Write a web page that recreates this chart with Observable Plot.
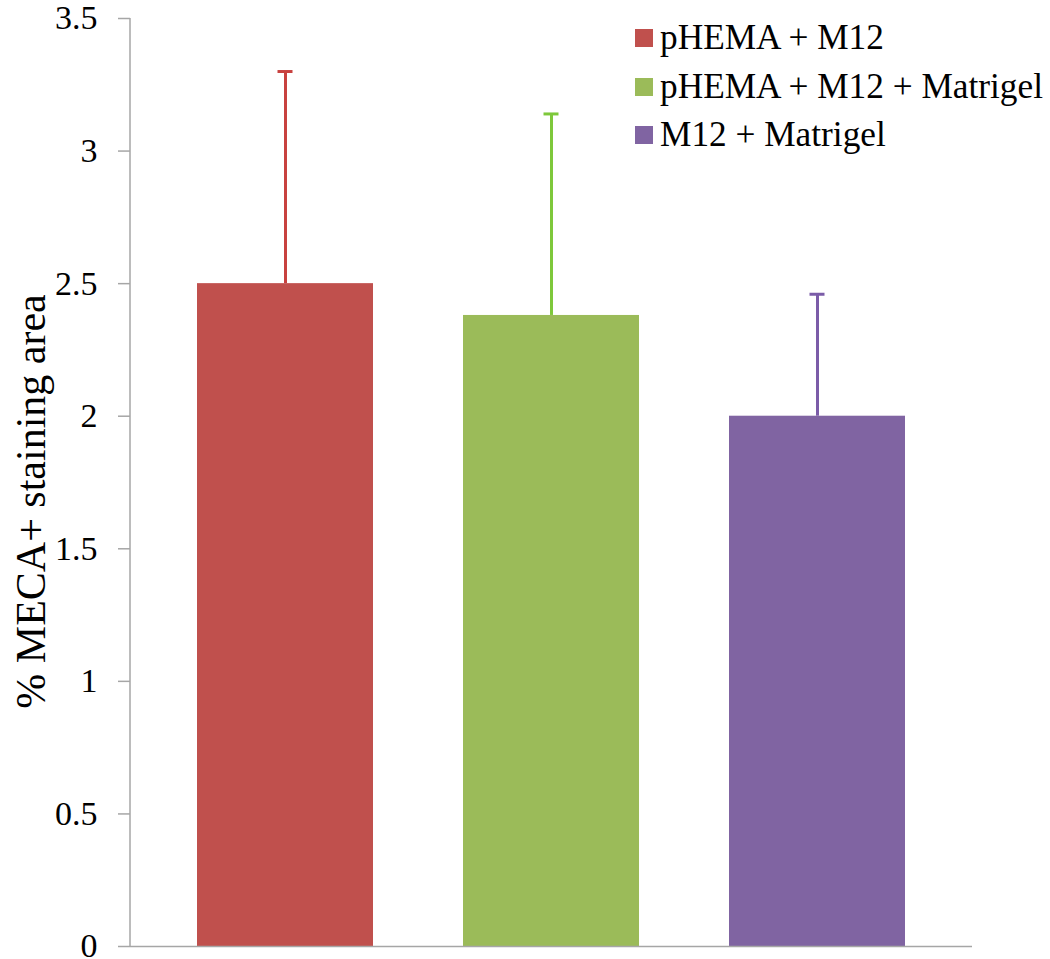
<!DOCTYPE html>
<html>
<head>
<meta charset="utf-8">
<script src="https://cdn.jsdelivr.net/npm/d3@7"></script>
<script src="https://cdn.jsdelivr.net/npm/@observablehq/plot@0.6"></script>
<style>
  html, body { margin: 0; padding: 0; background: #fff; }
  #wrap { position: relative; width: 1050px; height: 959px; }
  #legend { position: absolute; left: 635px; top: 14px; color: #000; }
  .row { display: flex; align-items: center; height: 48.5px; }
  .sw { width: 18px; height: 18px; margin-right: 7px; flex: none; }
</style>
</head>
<body>
<div id="wrap"><div id="legend"></div></div>
<script>
const categories = ["pHEMA + M12", "pHEMA + M12 + Matrigel", "M12 + Matrigel"];
const means = [2.50, 2.38, 2.00];
const errors = [0.80, 0.76, 0.46];
const barColors = ["#C0504D", "#9BBB59", "#8064A2"];
const errColors = ["#C8413F", "#7EC83B", "#7B5CA8"];
const yTicks = [0, 0.5, 1, 1.5, 2, 2.5, 3, 3.5];
const yLabel = "% MECA+ staining area";

const data = categories.map((c, i) => ({cat: c, mean: means[i], upper: means[i] + errors[i], err: errColors[i]}));

const axisColor = "#A6A6A6";
const font = "'Liberation Serif', 'Times New Roman', serif";

const yAxisLine = (index, scales, values, dims) => {
  const line = document.createElementNS("http://www.w3.org/2000/svg", "line");
  line.setAttribute("x1", dims.marginLeft);
  line.setAttribute("x2", dims.marginLeft);
  line.setAttribute("y1", dims.marginTop);
  line.setAttribute("y2", dims.height - dims.marginBottom);
  line.setAttribute("stroke", axisColor);
  line.setAttribute("stroke-width", 1.5);
  return line;
};

const chart = Plot.plot({
  width: 1050,
  height: 959,
  marginLeft: 130,
  marginRight: 78,
  marginTop: 18,
  marginBottom: 13,
  style: {fontFamily: font, background: "white"},
  x: {domain: categories, paddingInner: 0.338, paddingOuter: 0.25, axis: null},
  y: {domain: [0, 3.5], axis: null},
  color: {domain: categories, range: barColors},
  marks: [
    Plot.barY(data, {x: "cat", y: "mean", fill: "cat"}),
    Plot.ruleX(data, {x: "cat", y1: "mean", y2: "upper", stroke: d => d.err, strokeWidth: 3}),
    Plot.tickY(data, {x: "cat", y: "upper", stroke: d => d.err, strokeWidth: 3, insetLeft: 80.5, insetRight: 80.5}),
    Plot.axisY({ticks: yTicks, tickFormat: d => String(d), tickSize: 12, tickPadding: 21, stroke: axisColor, strokeWidth: 1.5, fontSize: 34, fontFamily: font, fill: "#000", label: null, color: "#000"}),
    Plot.ruleY([0], {stroke: axisColor, strokeWidth: 1.5}),
    yAxisLine,
    Plot.text([yLabel], {frameAnchor: "left", rotate: -90, dx: -99, dy: 19, fontSize: 42, fontFamily: font, fill: "#000", textAnchor: "middle", lineAnchor: "middle"})
  ]
});
document.getElementById("wrap").prepend(chart);

const legend = document.getElementById("legend");
legend.style.fontFamily = font;
legend.style.fontSize = "35.3px";
categories.forEach((c, i) => {
  const row = document.createElement("div");
  row.className = "row";
  const sw = document.createElement("div");
  sw.className = "sw";
  sw.style.background = barColors[i];
  const t = document.createElement("span");
  t.textContent = c;
  t.style.fontFamily = font;
  t.style.fontSize = "35.3px";
  row.appendChild(sw);
  row.appendChild(t);
  legend.appendChild(row);
});
</script>
</body>
</html>
